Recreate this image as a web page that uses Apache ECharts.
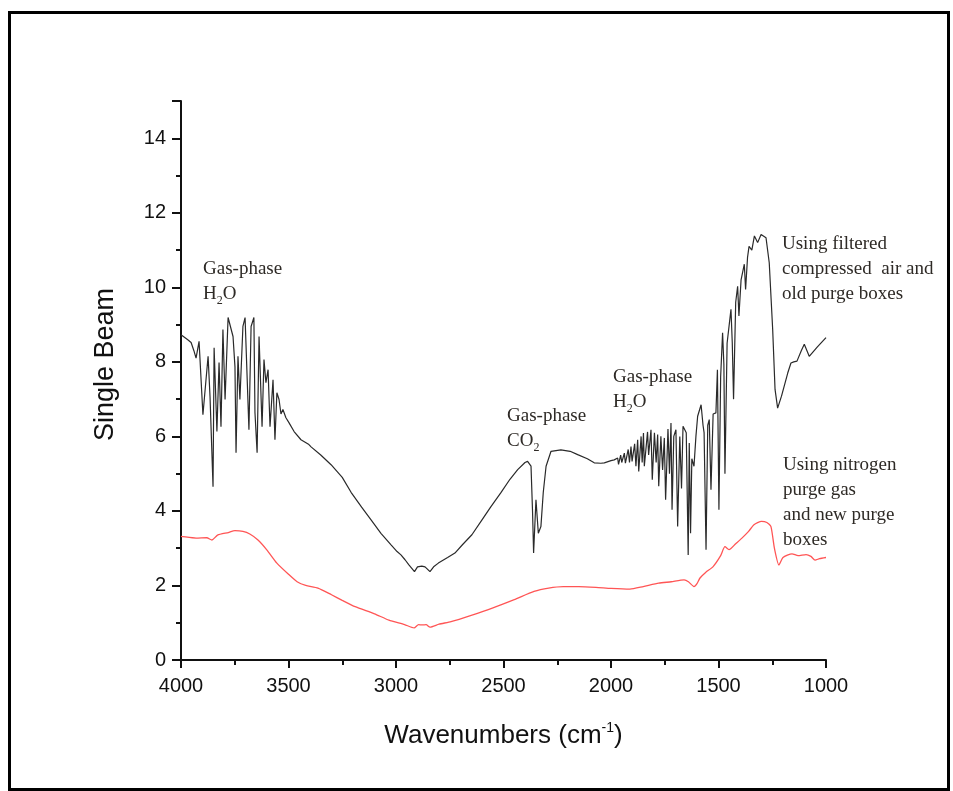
<!DOCTYPE html>
<html>
<head>
<meta charset="utf-8">
<script src="https://cdn.jsdelivr.net/npm/echarts@6/dist/echarts.min.js"></script>
<style>
html,body{margin:0;padding:0;background:#fff;}
#chart{width:953px;height:791px;}
</style>
</head>
<body>
<div id="chart"></div>
<script>
// x-axis ticks (wavenumbers, cm-1)
var xTicks = [4000, 3500, 3000, 2500, 2000, 1500, 1000];
var yTicks = [0, 2, 4, 6, 8, 10, 12, 14];

// Black trace: filtered compressed air + old purge boxes
var blackWn = [4000,3992,3970,3953,3940,3930,3916,3898,3884,3874,3865,3851,3846,3833,3823,3814,3805,3795,3781,3772,3758,3749,3744,3735,3726,3712,3702,3693,3684,3674,3661,3656,3646,3637,3623,3614,3605,3595,3586,3572,3563,3554,3544,3535,3526,3512,3498,3474,3442,3405,3395,3350,3302,3250,3209,3160,3116,3070,3023,2995,2977,2958,2940,2914,2900,2880,2865,2842,2825,2803,2760,2726,2690,2647,2600,2560,2512,2470,2434,2400,2388,2372,2365,2360,2349,2338,2326,2315,2302,2279,2233,2190,2155,2110,2078,2047,2031,2000,1985,1969,1965,1955,1950,1938,1933,1920,1914,1907,1902,1890,1884,1876,1871,1860,1855,1849,1845,1830,1825,1814,1808,1798,1790,1783,1778,1768,1760,1752,1746,1735,1728,1721,1716,1708,1698,1690,1680,1672,1665,1650,1641,1636,1630,1624,1614,1605,1597,1581,1572,1567,1558,1550,1543,1535,1525,1512,1505,1498,1490,1481,1475,1470,1460,1442,1436,1430,1420,1411,1405,1395,1380,1374,1365,1358,1345,1333,1318,1302,1279,1264,1248,1237,1225,1207,1178,1163,1150,1135,1115,1101,1078,1040,1000];
var blackVal = [8.73,8.69,8.6,8.52,8.3,8.1,8.55,6.58,7.5,8.15,7.07,4.65,8.38,6.13,7.98,6.26,8.87,6.99,9.19,9.22,8.68,7.87,5.56,8.15,6.99,8.95,9.19,9.14,6.18,8.95,9.19,6.64,5.56,8.68,6.26,8.06,7.44,7.79,6.26,7.52,5.91,7.17,6.99,6.6,6.72,6.5,6.37,6.13,5.91,5.78,5.72,5.5,5.24,4.9,4.5,4.1,3.76,3.4,3.09,2.91,2.82,2.69,2.55,2.37,2.5,2.52,2.5,2.37,2.5,2.6,2.75,2.87,3.1,3.36,3.76,4.1,4.49,4.85,5.11,5.3,5.33,5.2,4.0,2.87,4.3,3.4,3.58,4.5,5.2,5.6,5.64,5.6,5.51,5.4,5.29,5.28,5.29,5.35,5.37,5.42,5.25,5.5,5.3,5.55,5.28,5.65,5.3,5.73,5.33,5.8,5.2,5.91,5.06,6.0,5.3,6.09,5.2,6.12,5.5,6.18,4.84,6.1,5.3,6.05,4.66,6.0,5.1,5.96,4.3,6.2,5.0,6.36,4.03,6.0,6.18,3.58,6.0,4.6,6.27,6.1,2.82,5.82,3.4,5.4,5.2,6.0,6.54,6.85,6.3,6.1,2.96,6.3,6.45,4.57,6.6,6.63,7.79,4.03,7.6,8.78,7.93,5.0,8.5,9.41,8.52,7.0,9.6,10.03,9.23,10.2,10.62,9.94,10.8,11.1,11.0,11.38,11.2,11.42,11.33,10.66,8.87,7.26,6.76,7.08,7.7,7.97,8.0,8.02,8.3,8.47,8.15,8.4,8.65];

// Red trace: nitrogen purge gas + new purge boxes
var redWn = [4000,3991,3930,3880,3856,3830,3780,3749,3712,3680,3642,3600,3554,3500,3460,3420,3363,3300,3250,3190,3100,3033,2960,2916,2895,2879,2860,2842,2800,2744,2650,2549,2450,2358,2290,2222,2150,2070,2000,1912,1850,1778,1720,1660,1640,1614,1600,1586,1560,1526,1490,1470,1451,1420,1391,1360,1335,1300,1275,1256,1240,1219,1200,1158,1130,1093,1070,1051,1030,1000];
var redVal = [3.32,3.31,3.27,3.28,3.22,3.35,3.42,3.47,3.45,3.38,3.22,2.95,2.6,2.3,2.1,2.0,1.93,1.75,1.6,1.43,1.24,1.07,0.95,0.86,0.95,0.94,0.95,0.88,0.96,1.03,1.2,1.4,1.62,1.84,1.93,1.97,1.97,1.95,1.92,1.9,1.97,2.06,2.1,2.15,2.1,1.97,2.05,2.2,2.35,2.5,2.8,3.04,2.96,3.12,3.27,3.45,3.63,3.72,3.69,3.58,3.0,2.55,2.75,2.85,2.8,2.83,2.78,2.68,2.72,2.75];

function zip(a, b) { return a.map(function (v, i) { return [v, b[i]]; }); }

var chart = echarts.init(document.getElementById('chart'), null, {renderer: 'canvas'});
var serif = '"Liberation Serif", "DejaVu Serif", serif';
var sans = '"Liberation Sans", Arial, sans-serif';
var annColor = '#2e2a26';
var annRich = {
  t: {fontFamily: serif, fontSize: 19, lineHeight: 25, color: annColor},
  s: {fontFamily: serif, fontSize: 12, lineHeight: 16, verticalAlign: 'bottom', color: annColor}
};
function ann(x, y, text) {
  return {type: 'text', left: x, top: y, silent: true,
    style: {text: text, rich: annRich, fill: annColor, font: '19px ' + serif}};
}

chart.setOption({
  animation: false,
  backgroundColor: '#ffffff',
  grid: {left: 181, right: 127, top: 101, bottom: 131, containLabel: false},
  xAxis: {
    type: 'value', inverse: true, min: 1000, max: 4000, interval: 500,
    name: '{a|Wavenumbers (cm}{b|-1}{a|)}',
    nameLocation: 'middle', nameGap: 61,
    nameTextStyle: {rich: {
      a: {fontFamily: sans, fontSize: 26, color: '#111', lineHeight: 30},
      b: {fontFamily: sans, fontSize: 14, color: '#111', verticalAlign: 'top', lineHeight: 30}
    }},
    axisLine: {lineStyle: {color: '#111', width: 2}},
    axisTick: {length: 8, lineStyle: {color: '#111', width: 2}},
    minorTick: {show: true, splitNumber: 2, length: 5, lineStyle: {color: '#111', width: 2}},
    axisLabel: {fontFamily: sans, fontSize: 20, color: '#111', margin: 16,
      formatter: function (v) { return xTicks.indexOf(v) >= 0 ? String(v) : ''; }},
    splitLine: {show: false}
  },
  yAxis: {
    type: 'value', min: 0, max: 15, interval: 2,
    name: 'Single Beam', nameLocation: 'middle', nameGap: 62,
    nameTextStyle: {fontFamily: sans, fontSize: 27, color: '#111', padding: [0, 0, 0, 32]},
    axisLine: {show: true, lineStyle: {color: '#111', width: 2}},
    axisTick: {show: true, length: 9, lineStyle: {color: '#111', width: 2}},
    minorTick: {show: true, splitNumber: 2, length: 5, lineStyle: {color: '#111', width: 2}},
    axisLabel: {fontFamily: sans, fontSize: 20, color: '#111', margin: 15, showMaxLabel: false,
      formatter: function (v) { return yTicks.indexOf(v) >= 0 ? String(v) : ''; }},
    splitLine: {show: false}
  },
  series: [
    {type: 'line', name: 'air', data: zip(blackWn, blackVal), showSymbol: false,
      lineStyle: {color: '#2a2a2a', width: 1.2}, z: 3},
    {type: 'line', name: 'nitrogen', data: zip(redWn, redVal), showSymbol: false, smooth: 0.2,
      lineStyle: {color: '#ff5555', width: 1.3}, z: 2}
  ],
  graphic: [
    {type: 'rect', left: 7, top: 10, silent: true,
      shape: {width: 939, height: 777}, style: {fill: 'none', stroke: '#000', lineWidth: 3}},
    ann(203, 260, '{t|Gas-phase}\n{t|H}{s|2}{t|O}'),
    ann(507, 407, '{t|Gas-phase}\n{t|CO}{s|2}'),
    ann(613, 368, '{t|Gas-phase}\n{t|H}{s|2}{t|O}'),
    ann(782, 235, '{t|Using filtered}\n{t|compressed  air and}\n{t|old purge boxes}'),
    ann(783, 456, '{t|Using nitrogen}\n{t|purge gas}\n{t|and new purge}\n{t|boxes}')
  ]
});
</script>
</body>
</html>
